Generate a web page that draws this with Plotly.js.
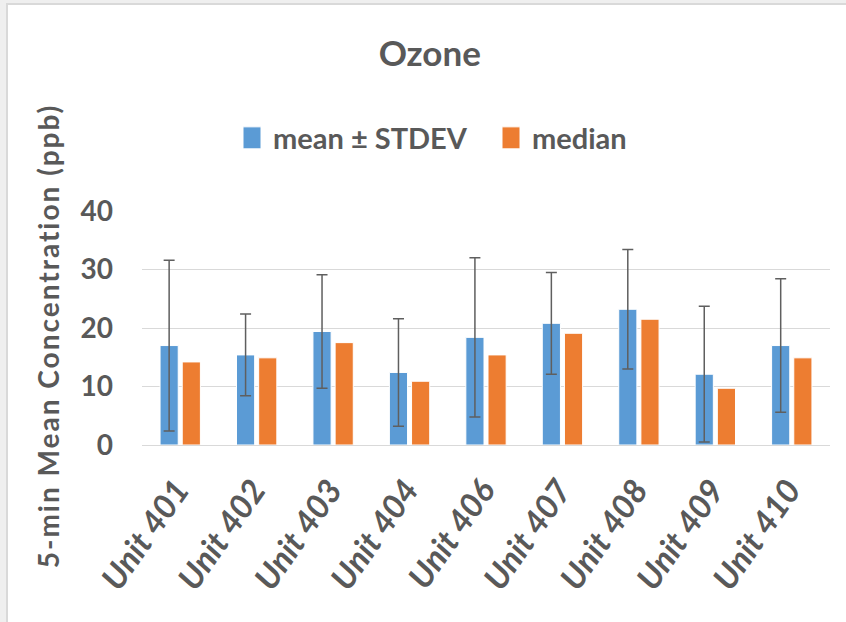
<!DOCTYPE html>
<html>
<head>
<meta charset="utf-8">
<script src="https://cdn.plot.ly/plotly-3.0.1.min.js"></script>
<style>
  html, body { margin: 0; padding: 0; background: #ffffff; }
  #wrap { position: relative; width: 846px; height: 622px; overflow: hidden; }
  #chart { position: absolute; left: 0; top: 0; width: 846px; height: 622px; }
  .strip { position: absolute; pointer-events: none; }
</style>
</head>
<body>
<div id="wrap">
  <div id="chart"></div>
  <div class="strip" style="left:0;top:0;width:846px;height:3px;background:#efefef;"></div>
  <div class="strip" style="left:0;top:0;width:6px;height:622px;background:#efefef;"></div>
  <div class="strip" style="left:6px;top:3px;width:840px;height:2px;background:#d9d9d9;"></div>
  <div class="strip" style="left:6px;top:3px;width:2px;height:619px;background:#d9d9d9;"></div>
</div>
<script>
const units = ['Unit 401','Unit 402','Unit 403','Unit 404','Unit 406','Unit 407','Unit 408','Unit 409','Unit 410'];
const meanVals = [17.0, 15.4, 19.4, 12.4, 18.4, 20.8, 23.2, 12.1, 17.0];
const stdevVals = [14.6, 7.0, 9.7, 9.2, 13.6, 8.7, 10.2, 11.6, 11.4];
const medianVals = [14.2, 14.9, 17.5, 10.9, 15.4, 19.1, 21.5, 9.7, 14.9];
const yTicks = [0, 10, 20, 30, 40];

const FONT = 'Lato, "Open Sans", "DejaVu Sans", sans-serif';
const TXT = '#595959';

const traces = [
  {
    type: 'bar', name: 'mean ± STDEV', x: units, y: meanVals,
    marker: { color: '#5B9BD5', line: { color: '#ffffff', width: 1 } },
    error_y: { type: 'data', array: stdevVals, visible: true, color: '#5f5f5f', thickness: 1.5, width: 5.5 }
  },
  {
    type: 'bar', name: 'median', x: units, y: medianVals,
    marker: { color: '#ED7D31', line: { color: '#ffffff', width: 1 } }
  }
];

const layout = {
  width: 846, height: 622,
  paper_bgcolor: '#ffffff', plot_bgcolor: '#ffffff',
  margin: { l: 142, r: 16, t: 211, b: 177, pad: 0 },
  font: { family: FONT, color: TXT },
  title: {
    text: 'Ozone', font: { family: FONT, size: 35, weight: 'bold', color: TXT },
    xref: 'container', x: 0.508, xanchor: 'center',
    yref: 'container', y: 1 - 54/622, yanchor: 'middle'
  },
  showlegend: true,
  legend: {
    orientation: 'h', xref: 'container', x: 233/846, xanchor: 'left',
    yref: 'container', y: 1 - 138/622, yanchor: 'middle',
    font: { family: FONT, size: 29, weight: 'bold', color: TXT },
    bgcolor: 'rgba(0,0,0,0)', itemwidth: 30, entrywidth: 214
  },
  barmode: 'group', bargap: 0.42, bargroupgap: 0.18,
  xaxis: {
    type: 'category', showgrid: false, zeroline: false, showline: false,
    ticks: '', tickangle: -55,
    tickfont: { family: FONT, size: 33, weight: 'bold', style: 'italic', color: TXT },
    ticklabelstandoff: 18, ticklabelshift: -3
  },
  yaxis: {
    range: [0, 40], tickvals: yTicks, ticktext: yTicks.map(String),
    showgrid: true, gridcolor: '#d9d9d9', gridwidth: 1,
    zeroline: true, zerolinecolor: '#d9d9d9', zerolinewidth: 1,
    showline: false, ticks: '',
    tickfont: { family: FONT, size: 28, weight: 'bold', color: TXT },
    ticklabelstandoff: 28,
    title: { text: '5-min Mean Concentration (ppb)', font: { family: FONT, size: 28, weight: 'bold', color: TXT }, standoff: 18 }
  }
};

Plotly.newPlot('chart', traces, layout, { displayModeBar: false, staticPlot: true }).then(function (gd) {
  gd.querySelectorAll('.legend .legendpoints path').forEach(function (p) {
    p.removeAttribute('transform');
    p.setAttribute('d', 'M28,11H10V-11H28Z');
  });
  var yt = gd.querySelector('.ytitle');
  if (yt) {
    yt.style.letterSpacing = '2px';
    var tr = yt.getAttribute('transform') || '';
    yt.setAttribute('transform', 'translate(6,8) ' + tr);
  }
});
</script>
</body>
</html>
